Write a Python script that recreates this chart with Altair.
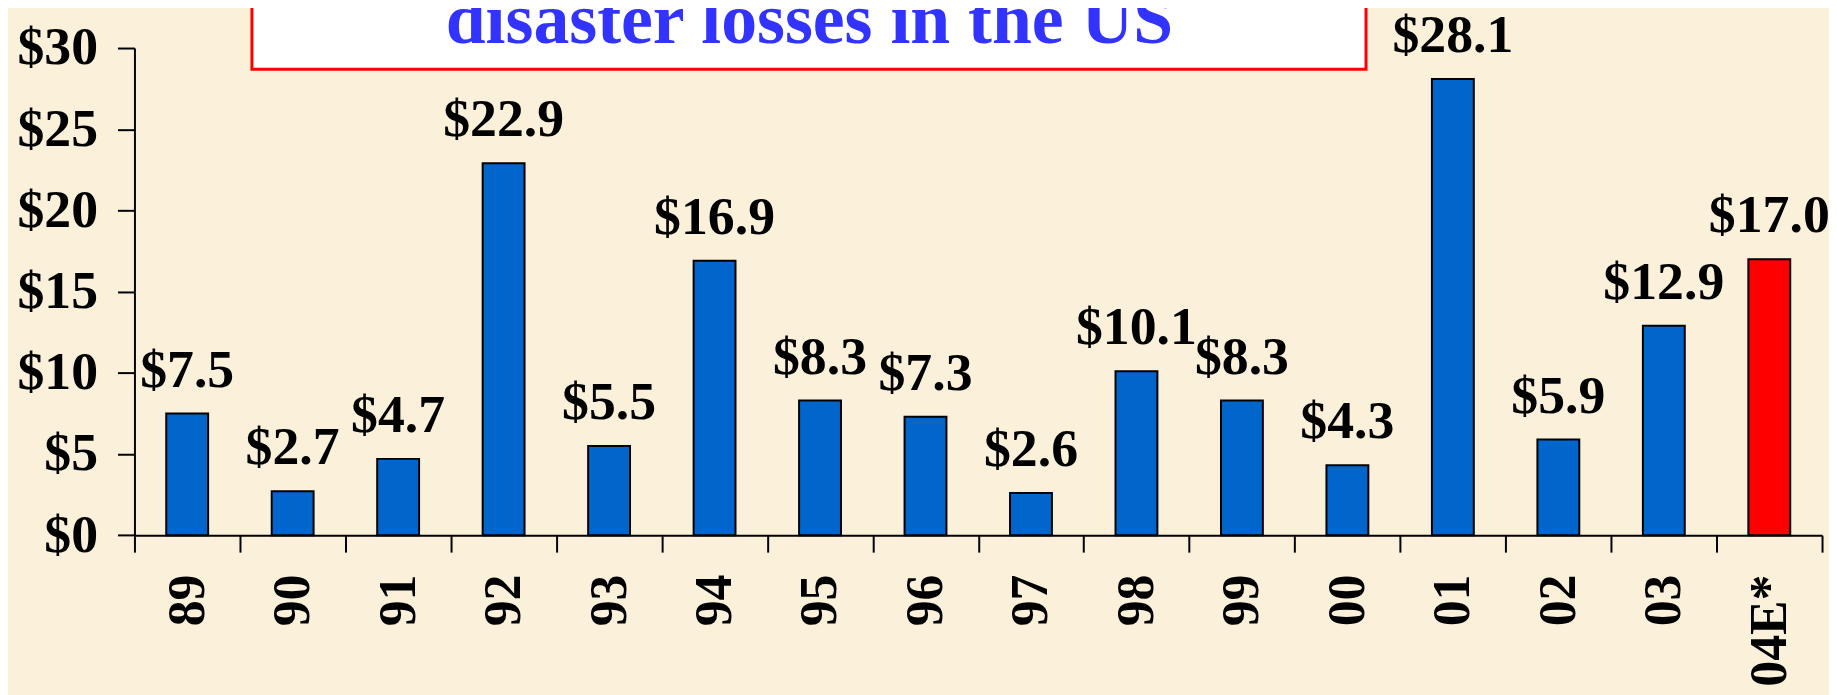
import altair as alt
import pandas as pd

years = ["89", "90", "91", "92", "93", "94", "95", "96", "97", "98", "99", "00", "01", "02", "03", "04E*"]
losses = [7.5, 2.7, 4.7, 22.9, 5.5, 16.9, 8.3, 7.3, 2.6, 10.1, 8.3, 4.3, 28.1, 5.9, 12.9, 17.0]
kinds = ["actual"] * 15 + ["estimate"]
y_ticks = [0, 5, 10, 15, 20, 25, 30]
title_lines = ["disaster losses in the US"]

df = pd.DataFrame({"year": years, "loss": losses, "kind": kinds})
title_df = pd.DataFrame({"t": title_lines})

FONT = "Liberation Serif"
BG = "#FBF1DB"

x = alt.X(
    "year:N",
    sort=years,
    scale=alt.Scale(paddingInner=0, paddingOuter=0),
    axis=alt.Axis(
        title=None,
        labelAngle=-90,
        labelFont=FONT,
        labelFontWeight="bold",
        labelFontSize=52,
        labelColor="black",
        labelPadding=22,
        tickBand="extent",
        tickSize=17,
        tickWidth=2,
        tickColor="black",
        domainColor="black",
        domainWidth=2,
        grid=False,
    ),
)
y = alt.Y(
    "loss:Q",
    scale=alt.Scale(domain=[0, 30], nice=False),
    axis=alt.Axis(
        title=None,
        values=y_ticks,
        labelExpr="'$' + datum.value",
        labelFont=FONT,
        labelFontWeight="bold",
        labelFontSize=54,
        labelColor="black",
        labelPadding=20,
        tickSize=17,
        tickWidth=2,
        tickColor="black",
        domainColor="black",
        domainWidth=2,
        grid=False,
    ),
)

base = alt.Chart(df)

bars = base.mark_bar(stroke="black", strokeWidth=2, width={"band": 0.397}).encode(
    x=x,
    y=y,
    color=alt.Color(
        "kind:N",
        scale=alt.Scale(domain=["actual", "estimate"], range=["#0066CC", "#FF0000"]),
        legend=None,
    ),
)

labels = base.mark_text(
    font=FONT, fontWeight="bold", fontSize=54, color="black",
    baseline="alphabetic", align="center", dy=-27,
).encode(
    x=alt.X("year:N", sort=years),
    y=alt.Y("loss:Q"),
    text=alt.Text("loss:Q", format="$.1f"),
)

box = alt.Chart(title_df).mark_rect(
    fill="white", stroke="#FF0000", strokeWidth=3
).encode(
    x=alt.value(118), x2=alt.value(1237), y=alt.value(-80), y2=alt.value(21.3)
)

title_text = alt.Chart(title_df).mark_text(
    font=FONT, fontWeight="bold", fontSize=72, color="#3333FF",
    align="center", baseline="alphabetic",
).encode(
    x=alt.value(678), y=alt.value(-4.7), text="t:N"
)

chart = alt.layer(bars, labels, box, title_text).properties(
    width=1695,
    height=489.3,
    background=BG,
    padding={"left": 127, "top": 38.7, "right": 7, "bottom": 159},
    autosize=alt.AutoSizeParams(type="none"),
).configure_view(stroke=None)

chart.save("out.html", embed_options={"renderer": "svg", "actions": False})
